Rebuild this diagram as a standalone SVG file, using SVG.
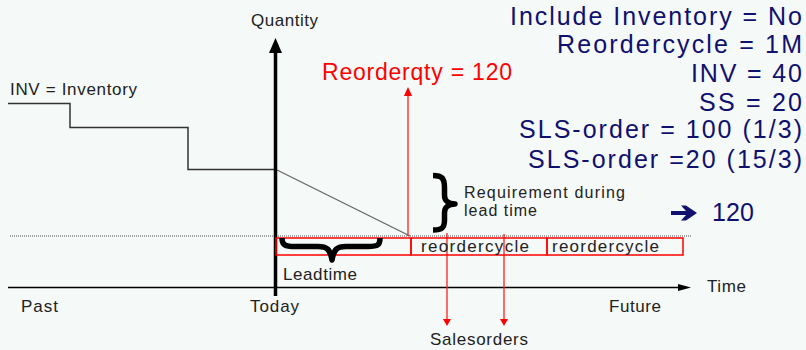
<svg xmlns="http://www.w3.org/2000/svg" width="806" height="350" viewBox="0 0 806 350">
<style>
.t{font-family:"Liberation Sans",Arial,sans-serif;font-size:17px;fill:#222}
.s{font-family:"Liberation Sans",Arial,sans-serif;font-size:16px;fill:#222}
.big{font-family:"Liberation Sans",Arial,sans-serif;font-size:25px;fill:#10106e}
.red{font-family:"Liberation Sans",Arial,sans-serif;font-size:23px;fill:#ff0000}
.rl{stroke:#ff2020;stroke-width:1.3;fill:none}
.box{stroke:#ff0000;stroke-width:1.5;fill:none}
.brace{stroke:#000;stroke-width:5.5;fill:none;stroke-linejoin:round}
</style>
<rect width="806" height="350" fill="#f5f9f7"/>
<g id="connectors">
  <polyline points="8,103.5 70,103.5 70,127.5 188,127.5 188,169.5 275,169.5" fill="none" stroke="#333" stroke-width="1.5"/>
  <line x1="277" y1="170" x2="410" y2="236" stroke="#666" stroke-width="1.3"/>
  <line x1="10" y1="236" x2="692" y2="236" stroke="#888" stroke-width="1.5" stroke-dasharray="1,1"/>
  <line x1="8" y1="287.5" x2="680" y2="287.5" stroke="#000" stroke-width="1.5"/>
  <polygon points="678,284 691,287.5 678,291" fill="#000"/>
  <line x1="275.5" y1="50" x2="275.5" y2="296" stroke="#000" stroke-width="3.5"/>
  <polygon points="269,53 275.5,38 282,53" fill="#000"/>
  <line x1="408" y1="236" x2="408" y2="94" class="rl"/>
  <polygon points="404,96 408,87 412,96" fill="#ff0000"/>
  <line x1="447" y1="233" x2="447" y2="320" class="rl"/>
  <polygon points="443,319 447,326 451,319" fill="#ff0000"/>
  <line x1="504" y1="234" x2="504" y2="320" class="rl"/>
  <polygon points="500,319 504,326 508,319" fill="#ff0000"/>
</g>
<g id="leadtime-box">
  <rect x="276" y="238" width="135" height="17" class="box"/>
  <path class="brace" d="M282,238 C282,245 285,246.5 295,246.5 L318,246.5 C327,246.5 330,249 332,260 C334,249 337,246.5 346,246.5 L368,246.5 C378,246.5 380,245 380,238"/>
  <text class="t" x="283" y="280" textLength="74" lengthAdjust="spacing">Leadtime</text>
</g>
<g id="cycle1">
  <rect x="411" y="238" width="136" height="17" class="box"/>
  <text class="t" x="421" y="252" textLength="108" lengthAdjust="spacing">reordercycle</text>
</g>
<g id="cycle2">
  <rect x="547" y="238" width="136" height="17" class="box"/>
  <text class="t" x="552" y="252" textLength="107" lengthAdjust="spacing">reordercycle</text>
</g>
<g id="requirement">
  <path class="brace" d="M433,175.5 C442,175.5 444.5,178 444.5,188 L444.5,195 C444.5,201 448,203.5 455,204 C448,204.5 444.5,207 444.5,213 L444.5,220 C444.5,228 442,230 433,230"/>
  <text class="s" x="464" y="198" textLength="161" lengthAdjust="spacing">Requirement during</text>
  <text class="s" x="464" y="216" textLength="73" lengthAdjust="spacing">lead time</text>
</g>
<g id="result">
  <path d="M671,211 L686,211 L681,205.5 L686,205.5 L697,213 L686,220.5 L681,220.5 L686,215 L671,215 Z" fill="#10106e"/>
  <text class="big" x="712" y="221" textLength="42" lengthAdjust="spacing">120</text>
</g>
<g id="reorderqty">
  <text class="red" x="322" y="80" textLength="190" lengthAdjust="spacing">Reorderqty = 120</text>
</g>
<g id="params">
  <text class="big" x="510" y="25" textLength="292" lengthAdjust="spacing">Include Inventory = No</text>
  <text class="big" x="557" y="53" textLength="245" lengthAdjust="spacing">Reordercycle = 1M</text>
  <text class="big" x="691" y="82" textLength="111" lengthAdjust="spacing">INV = 40</text>
  <text class="big" x="699" y="111" textLength="103" lengthAdjust="spacing">SS = 20</text>
  <text class="big" x="519" y="138" textLength="283" lengthAdjust="spacing">SLS-order = 100 (1/3)</text>
  <text class="big" x="528" y="168" textLength="274" lengthAdjust="spacing">SLS-order =20 (15/3)</text>
</g>
<g id="labels">
  <text class="t" x="251" y="26" textLength="67" lengthAdjust="spacing">Quantity</text>
  <text class="t" x="10" y="95" textLength="127" lengthAdjust="spacing">INV = Inventory</text>
  <text class="t" x="21" y="312" textLength="37" lengthAdjust="spacing">Past</text>
  <text class="t" x="250" y="312" textLength="49" lengthAdjust="spacing">Today</text>
  <text class="t" x="609" y="312" textLength="52" lengthAdjust="spacing">Future</text>
  <text class="t" x="707" y="292" textLength="39" lengthAdjust="spacing">Time</text>
  <text class="t" x="430" y="345" textLength="98" lengthAdjust="spacing">Salesorders</text>
</g>
</svg>
